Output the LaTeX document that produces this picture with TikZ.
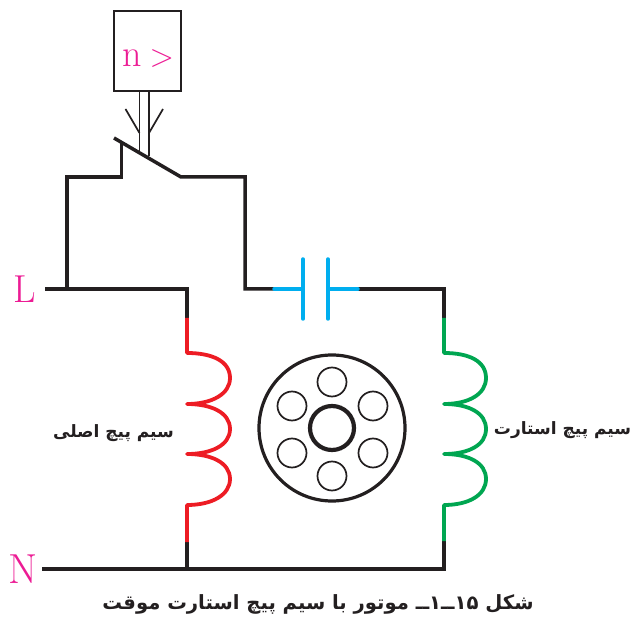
\documentclass[tikz,border=0pt]{standalone}
\usepackage{fontspec}
\TeXXeTstate=1
\newfontfamily\arabicfont[Script=Arabic]{DejaVu Sans Bold}
\definecolor{inkk}{HTML}{231F20}
\definecolor{coilred}{HTML}{ED1C24}
\definecolor{coilgreen}{HTML}{00A651}
\definecolor{capblue}{HTML}{00AEEF}
\definecolor{labelpink}{HTML}{EC1C94}
\tikzset{
  wire/.style={draw=inkk,line width=3.5pt,line join=miter},
  thinwire/.style={draw=inkk,line width=1.7pt},
  capwire/.style={draw=capblue,line width=3.5pt,line cap=round},
  redcoil/.style={draw=coilred,line width=3.8pt},
  greencoil/.style={draw=coilgreen,line width=3.8pt},
  relaybox/.style={draw=inkk,line width=1.7pt,minimum width=67pt,minimum height=80pt,inner sep=0pt},
  pinktext/.style={text=labelpink,inner sep=0pt},
  farsi/.style={text=inkk,inner sep=0pt,font=\arabicfont\fontsize{17}{20}\selectfont},
  slot/.style={circle,draw=inkk,line width=1.7pt,minimum size=29pt,inner sep=0pt},
}
\begin{document}
\begin{tikzpicture}[x=1pt,y=-1pt]
\useasboundingbox (0,0) rectangle (633,623);
% relay
\node[relaybox] (relay) at (147.5,51) {};
\node[pinktext,font=\fontsize{32}{36}\selectfont,anchor=base] (speed) at (148,67) {{\fontsize{38}{40}\selectfont n}\hspace{8pt}>};
\coordinate (rodAtop) at (139.5,91); \coordinate (rodAbot) at (139.5,151);
\coordinate (rodBtop) at (149,91); \coordinate (rodBbot) at (149,156);
\coordinate (barbAend) at (139.5,133); \coordinate (barbBend) at (149,133);
\coordinate (barbA) at (125.5,109); \coordinate (barbB) at (163,109);
\draw[thinwire] (rodAtop) -- (rodAbot);
\draw[thinwire] (rodBtop) -- (rodBbot);
\draw[thinwire] (barbA) -- (barbAend);
\draw[thinwire] (barbB) -- (barbBend);
% switch and wiring
\coordinate (levA) at (114,138); \coordinate (levB) at (181,177);
\coordinate (post) at (121.5,143); \coordinate (postb) at (121.5,177);
\coordinate (leftc) at (67,177); \coordinate (leftb) at (67,289);
\coordinate (rightc) at (245,177); \coordinate (rightb) at (245,289);
\coordinate (capinA) at (274,289); \coordinate (plateA) at (303,289);
\coordinate (plateB) at (328,289); \coordinate (capinB) at (358,289);
\coordinate (topR) at (444,289); \coordinate (Lstart) at (45,289); \coordinate (topM) at (187,289);
\coordinate (Nstart) at (42,569); \coordinate (botM) at (187,569); \coordinate (botR) at (444,569);
\draw[wire] (levA) -- (levB) -- (rightc) -- (rightb) -- (capinA);
\draw[wire] (post) -- (postb) -- (leftc) -- (leftb);
\draw[wire] (Lstart) -- (topM) -- (187,318);
\draw[wire] (capinB) -- (topR) -- (444,318);
\draw[wire] (Nstart) -- (botR) -- (444,541);
\draw[wire] (botM) -- (187,542);
% capacitor
\draw[capwire] (capinA) -- (plateA);
\draw[capwire] (plateB) -- (capinB);
\draw[capwire] (303,259) -- (303,319);
\draw[capwire] (328,259) -- (328,319);
% coils
\draw[redcoil,line join=round] (187,318) -- (187,353)
  .. controls (212,353) and (230,361) .. (230,378)
  .. controls (230,394) and (212,404) .. (187,404)
  .. controls (212,404) and (230,413) .. (230,429)
  .. controls (230,445) and (212,454) .. (187,454)
  .. controls (212,454) and (230,463) .. (230,479)
  .. controls (230,495) and (212,505) .. (187,505) -- (187,542);
\draw[greencoil,line join=round] (444,318) -- (444,353)
  .. controls (469,353) and (486,361) .. (486,378)
  .. controls (486,394) and (469,404) .. (444,404)
  .. controls (469,404) and (486,413) .. (486,429)
  .. controls (486,445) and (469,454) .. (444,454)
  .. controls (469,454) and (486,463) .. (486,479)
  .. controls (486,495) and (469,505) .. (444,505) -- (444,541);
% rotor
\node[circle,draw=inkk,line width=3.2pt,minimum size=146pt,inner sep=0pt] (rotor) at (332,428) {};
\node[circle,draw=inkk,line width=4.2pt,minimum size=44pt,inner sep=0pt] (shaft) at (332,428) {};
\node[slot] (s1) at (332,382) {};
\node[slot] (s2) at (373,406) {};
\node[slot] (s3) at (373,453) {};
\node[slot] (s4) at (332,476) {};
\node[slot] (s5) at (292,453) {};
\node[slot] (s6) at (292,406) {};
% labels
\node[pinktext,font=\fontsize{39}{40}\selectfont] (lineL) at (24.5,289) {L};
\node[pinktext,font=\fontsize{42}{44}\selectfont] (lineN) at (23.5,569) {N};
\node[farsi] (mainlabel) at (113.5,433) {\beginR سیم پیچ اصلی\endR};
\node[farsi] (startlabel) at (562.5,430) {\beginR سیم پیچ استارت\endR};
\node[farsi,font=\arabicfont\fontsize{19.6}{22}\selectfont] (caption) at (318,604) {\beginR شکل \beginL ۱۵\endL{}ــ\beginL ۱\endL{}ــ موتور با سیم پیچ استارت موقت\endR};
\end{tikzpicture}
\end{document}
